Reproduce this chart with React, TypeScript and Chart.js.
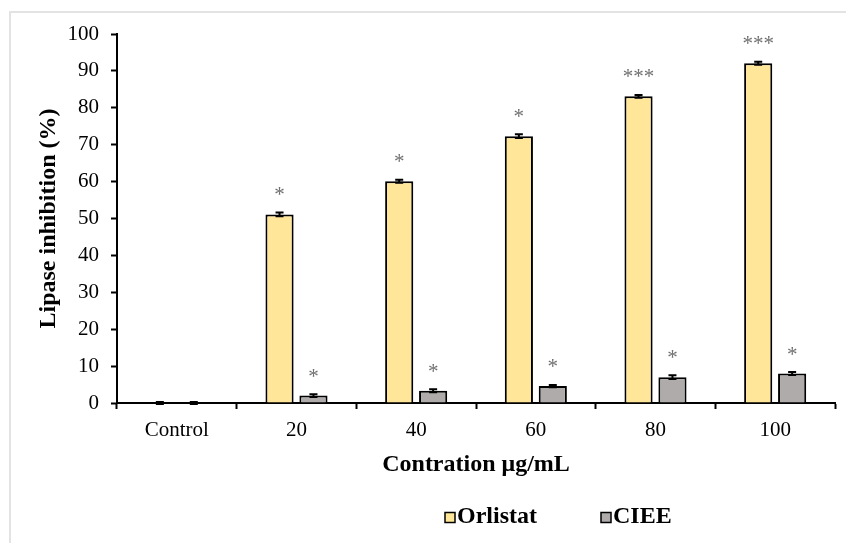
import React, { useEffect, useRef } from "react";
import { Chart, registerables } from "chart.js";

Chart.register(...registerables);

const categories = ["Control", "20", "40", "60", "80", "100"];
const orlistat = [0, 51.1, 60.1, 72.3, 83.1, 92.1];
const ciee = [0, 2.0, 3.3, 4.6, 7.0, 8.0];
const orlistatErr = [0.3, 0.5, 0.4, 0.5, 0.4, 0.4];
const cieeErr = [0.3, 0.4, 0.4, 0.3, 0.5, 0.4];
const orlistatSig = ["", "*", "*", "*", "***", "***"];
const cieeSig = ["", "*", "*", "*", "*", "*"];
const yTicks = [0, 10, 20, 30, 40, 50, 60, 70, 80, 90, 100];

const SERIF = "'Liberation Serif', 'Times New Roman', serif";

const decorPlugin = {
  id: "decor",
  beforeDraw(chart: any) {
    const ctx = chart.ctx;
    ctx.save();
    ctx.fillStyle = "#ffffff";
    ctx.fillRect(0, 0, chart.width, chart.height);
    ctx.strokeStyle = "#e3e3e3";
    ctx.lineWidth = 2;
    ctx.beginPath();
    ctx.moveTo(10, chart.height);
    ctx.lineTo(10, 12);
    ctx.lineTo(chart.width, 12);
    ctx.stroke();
    ctx.restore();
  },
  afterDatasetsDraw(chart: any) {
    const ctx = chart.ctx;
    const y = chart.scales.y;
    const errs = [orlistatErr, cieeErr];
    const sigs = [orlistatSig, cieeSig];
    ctx.save();
    chart.data.datasets.forEach((ds: any, di: number) => {
      const meta = chart.getDatasetMeta(di);
      meta.data.forEach((bar: any, i: number) => {
        const v = ds.data[i];
        const e = errs[di][i];
        const x = bar.x;
        const yTop = y.getPixelForValue(v + e);
        const yBot = y.getPixelForValue(v - e);
        ctx.strokeStyle = "#000";
        ctx.lineWidth = 2;
        ctx.beginPath();
        ctx.moveTo(x, yTop);
        ctx.lineTo(x, yBot);
        ctx.moveTo(x - 4, yTop);
        ctx.lineTo(x + 4, yTop);
        ctx.moveTo(x - 4, yBot);
        ctx.lineTo(x + 4, yBot);
        ctx.stroke();
        const s = sigs[di][i];
        if (s) {
          ctx.fillStyle = "#707070";
          ctx.font = `21px ${SERIF}`;
          ctx.textAlign = "center";
          ctx.textBaseline = "middle";
          ctx.fillText(s, x, yTop - 17);
        }
      });
    });
    ctx.restore();

    // axis titles
    const area = chart.chartArea;
    ctx.save();
    ctx.fillStyle = "#000";
    ctx.font = `bold 24px ${SERIF}`;
    ctx.textAlign = "center";
    ctx.textBaseline = "middle";
    ctx.fillText("Contration \u03bcg/mL", (area.left + area.right) / 2, 465);
    ctx.translate(49, (area.top + area.bottom) / 2);
    ctx.rotate(-Math.PI / 2);
    ctx.fillText("Lipase inhibition (%)", 0, 0);
    ctx.restore();

    // legend
    ctx.save();
    const items = [
      { label: "Orlistat", color: "#FFE699", x: 445 },
      { label: "CIEE", color: "#AFABAB", x: 601 },
    ];
    ctx.font = `bold 24px ${SERIF}`;
    ctx.textAlign = "left";
    ctx.textBaseline = "middle";
    items.forEach((it) => {
      ctx.fillStyle = it.color;
      ctx.fillRect(it.x, 512.5, 10, 10);
      ctx.strokeStyle = "#000";
      ctx.lineWidth = 1.5;
      ctx.strokeRect(it.x, 512.5, 10, 10);
      ctx.fillStyle = "#000";
      ctx.fillText(it.label, it.x + 12, 517);
    });
    ctx.restore();
  },
};

export default function App() {
  const ref = useRef<HTMLCanvasElement>(null);
  useEffect(() => {
    if (!ref.current) return;
    const chart = new Chart(ref.current, {
      type: "bar",
      data: {
        labels: categories,
        datasets: [
          {
            label: "Orlistat",
            data: orlistat,
            backgroundColor: "#FFE699",
            borderColor: "#000",
            borderWidth: 2,
            categoryPercentage: 0.567,
            barPercentage: 0.83,
          },
          {
            label: "CIEE",
            data: ciee,
            backgroundColor: "#AFABAB",
            borderColor: "#000",
            borderWidth: 2,
            categoryPercentage: 0.567,
            barPercentage: 0.83,
          },
        ],
      },
      options: {
        animation: false,
        responsive: false,
        maintainAspectRatio: false,
        layout: { padding: { left: 0, right: 11, top: 34, bottom: 0 } },
        plugins: {
          legend: { display: false },
          tooltip: { enabled: false },
        },
        scales: {
          x: {
            offset: true,
            grid: {
              display: true,
              offset: true,
              drawOnChartArea: false,
              drawTicks: true,
              tickLength: 6,
              tickWidth: 2,
              tickColor: "#000",
            },
            border: { display: true, color: "#000", width: 2 },
            ticks: {
              color: "#000",
              font: { family: SERIF, size: 21 },
              padding: 9,
              maxRotation: 0,
            },
            afterFit: (s: any) => {
              s.height = 140;
            },
          },
          y: {
            min: 0,
            max: 100,
            afterBuildTicks: (s: any) => {
              s.ticks = yTicks.map((v) => ({ value: v }));
            },
            grid: {
              display: true,
              drawOnChartArea: false,
              drawTicks: true,
              tickLength: 6,
              tickWidth: 2,
              tickColor: "#000",
            },
            border: { display: true, color: "#000", width: 2 },
            ticks: {
              color: "#000",
              font: { family: SERIF, size: 21 },
              padding: 12,
            },
            afterFit: (s: any) => {
              s.width = 117;
            },
          },
        },
      },
      plugins: [decorPlugin],
    });
    return () => chart.destroy();
  }, []);
  return (
    <div style={{ position: "absolute", left: 0, top: 0, width: 846, height: 543 }}>
      <canvas ref={ref} width={846} height={543} style={{ width: 846, height: 543 }} />
    </div>
  );
}
